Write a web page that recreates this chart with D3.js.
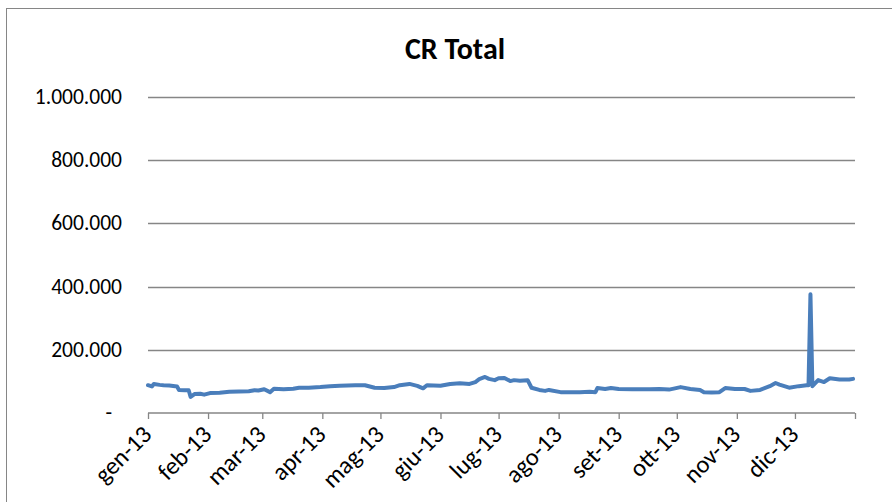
<!DOCTYPE html>
<html>
<head>
<meta charset="utf-8">
<script src="https://cdn.jsdelivr.net/npm/d3@7"></script>
<style>
  body { margin: 0; background: #fff; }
  text { font-family: Calibri, Carlito, Lato, sans-serif; fill: #000; }
</style>
</head>
<body>
<script>
//Width and height
var w = 892;
var h = 502;

// daily CR total (values in thousands)
var dates = ["2013-01-01","2013-01-03","2013-01-04","2013-01-07","2013-01-09","2013-01-12","2013-01-15","2013-01-16",
  "2013-01-17","2013-01-20","2013-01-22","2013-01-23","2013-01-25","2013-01-28","2013-01-30","2013-02-02",
  "2013-02-07","2013-02-12","2013-02-17","2013-02-22","2013-02-25","2013-02-27","2013-03-02","2013-03-05",
  "2013-03-07","2013-03-12","2013-03-17","2013-03-20","2013-03-25","2013-03-31","2013-04-05","2013-04-10",
  "2013-04-18","2013-04-23","2013-04-28","2013-05-03","2013-05-08","2013-05-11","2013-05-16","2013-05-20",
  "2013-05-23","2013-05-25","2013-06-01","2013-06-06","2013-06-11","2013-06-16","2013-06-19","2013-06-21",
  "2013-06-24","2013-06-26","2013-06-29","2013-07-01","2013-07-04","2013-07-07","2013-07-09","2013-07-12",
  "2013-07-16","2013-07-18","2013-07-22","2013-07-25","2013-07-27","2013-08-02","2013-08-07","2013-08-12",
  "2013-08-17","2013-08-20","2013-08-21","2013-08-25","2013-08-28","2013-09-01","2013-09-08","2013-09-17",
  "2013-09-22","2013-09-27","2013-10-03","2013-10-08","2013-10-13","2013-10-15","2013-10-19","2013-10-23",
  "2013-10-26","2013-10-31","2013-11-05","2013-11-08","2013-11-13","2013-11-18","2013-11-21","2013-11-23",
  "2013-11-28","2013-12-03","2013-12-07","2013-12-08","2013-12-09","2013-12-10","2013-12-13","2013-12-16",
  "2013-12-19","2013-12-24","2013-12-29","2013-12-31"];
var values = [88,84,92,89,88,87,85,84,
  73,72,72,51,60,61,58,63,
  64,67,68,69,72,71,75,66,
  77,75,77,80,80,82,85,86,
  88,88,80,79,82,88,92,86,
  78,88,86,92,94,92,98,107,
  114,108,104,110,111,101,104,102,
  104,80,73,70,73,66,66,66,
  67,66,79,76,79,76,75,75,
  76,74,82,76,73,66,65,66,
  79,76,76,70,73,85,95,90,
  80,85,88,88,376,85,104,98,
  110,106,106,108];

var months = ["gen-13","feb-13","mar-13","apr-13","mag-13","giu-13","lug-13","ago-13","set-13","ott-13","nov-13","dic-13"];
var yTicks = [0, 200000, 400000, 600000, 800000, 1000000];

var parse = d3.timeParse("%Y-%m-%d");
var data = dates.map(function(d, i){ return {date: parse(d), value: values[i] * 1000}; });

var svg = d3.select("body").append("svg")
            .attr("width", w)
            .attr("height", h);

// chart area border
svg.append("rect")
   .attr("x", 6.5).attr("y", 8.5)
   .attr("width", 1000).attr("height", 1000)
   .attr("fill", "none")
   .attr("stroke", "#868686");

var x = d3.scaleTime()
          .domain([new Date(2013, 0, 1), new Date(2014, 0, 1)])
          .range([148, 855]);
var y = d3.scaleLinear()
          .domain([0, 1000000])
          .range([413, 97]);

// Italian thousands format, "-" for zero
var itFmt = d3.formatLocale({decimal: ",", thousands: ".", grouping: [3], currency: ["€", ""]}).format(",.0f");

// gridlines
svg.append("g")
   .selectAll("line")
   .data(yTicks.slice(1))
   .enter().append("line")
   .attr("x1", x.range()[0]).attr("x2", x.range()[1])
   .attr("y1", function(d){ return Math.round(y(d)) + 0.5; })
   .attr("y2", function(d){ return Math.round(y(d)) + 0.5; })
   .attr("stroke", "#868686").attr("stroke-width", 1.3);

// y labels
svg.append("g")
   .selectAll("text")
   .data(yTicks)
   .enter().append("text")
   .attr("x", function(d){ return d === 0 ? 112 : 122; })
   .attr("y", function(d){ return y(d) + 7; })
   .attr("text-anchor", "end")
   .style("font-size", "21.5px")
   .text(function(d){ return d === 0 ? "-" : itFmt(d); });

// x axis
var monthStarts = d3.timeMonth.range(new Date(2013, 0, 1), new Date(2014, 0, 2));
var xAxis = d3.axisBottom(x)
              .tickValues(monthStarts)
              .tickSize(6)
              .tickFormat("");
var gx = svg.append("g")
            .attr("transform", "translate(0," + y(0) + ")")
            .call(xAxis);
gx.select(".domain").attr("stroke", "#868686").attr("stroke-width", 1.3)
  .attr("d", "M" + x.range()[0] + ",0H" + x.range()[1]);
gx.selectAll(".tick line").attr("stroke", "#868686").attr("stroke-width", 1.3);

// rotated month labels
svg.append("g")
   .selectAll("text")
   .data(months)
   .enter().append("text")
   .attr("text-anchor", "end")
   .style("font-size", "24.5px")
   .attr("transform", function(d, i){
       var px = x(new Date(2013, i, 1)) + 5;
       return "translate(" + px + "," + 436 + ") rotate(-45)";
   })
   .text(function(d){ return d; });

// the line
var line = d3.line()
             .x(function(d){ return x(d.date); })
             .y(function(d){ return y(d.value); });
svg.append("path")
   .datum(data)
   .attr("d", line)
   .attr("fill", "none")
   .attr("stroke", "#4a7ebb")
   .attr("stroke-width", 4)
   .attr("stroke-linejoin", "round")
   .attr("stroke-linecap", "round");

// title
svg.append("text")
   .attr("x", 455).attr("y", 59)
   .attr("text-anchor", "middle")
   .style("font-size", "30px")
   .style("font-weight", "bold")
   .text("CR Total");
</script>
</body>
</html>
